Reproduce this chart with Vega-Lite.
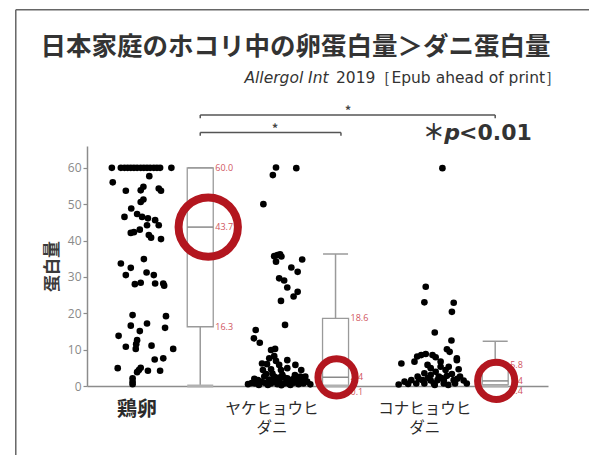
{
  "$schema": "https://vega.github.io/schema/vega-lite/v6.json",
  "width": 461,
  "height": 240,
  "autosize": "none",
  "padding": {"left": 87, "top": 146, "right": 41, "bottom": 69},
  "background": "white",
  "config": {
    "view": {"stroke": null},
    "font": "Noto Sans CJK JP",
    "axis": {"labelOverlap": false, "grid": false}
  },
  "resolve": {"axis": {"x": "independent", "y": "independent"}},
  "datasets": {
    "dust": [
      {"group": "鶏卵", "x": 4.4, "protein": 60}, {"group": "鶏卵", "x": 6.4, "protein": 60}, {"group": "鶏卵", "x": 7.2, "protein": 60},
      {"group": "鶏卵", "x": 7.9, "protein": 60}, {"group": "鶏卵", "x": 8.6, "protein": 60}, {"group": "鶏卵", "x": 9.3, "protein": 60},
      {"group": "鶏卵", "x": 10.0, "protein": 60}, {"group": "鶏卵", "x": 10.8, "protein": 60}, {"group": "鶏卵", "x": 11.5, "protein": 60},
      {"group": "鶏卵", "x": 12.2, "protein": 60}, {"group": "鶏卵", "x": 12.9, "protein": 60}, {"group": "鶏卵", "x": 13.7, "protein": 60},
      {"group": "鶏卵", "x": 14.4, "protein": 60}, {"group": "鶏卵", "x": 15.1, "protein": 60}, {"group": "鶏卵", "x": 17.6, "protein": 60},
      {"group": "鶏卵", "x": 4.6, "protein": 56.0}, {"group": "鶏卵", "x": 12.7, "protein": 57.7}, {"group": "鶏卵", "x": 7.5, "protein": 53.7},
      {"group": "鶏卵", "x": 10.8, "protein": 53.8}, {"group": "鶏卵", "x": 11.4, "protein": 54.8}, {"group": "鶏卵", "x": 14.8, "protein": 54.3},
      {"group": "鶏卵", "x": 15.3, "protein": 53.7}, {"group": "鶏卵", "x": 10.8, "protein": 50.6}, {"group": "鶏卵", "x": 11.4, "protein": 51.3},
      {"group": "鶏卵", "x": 8.7, "protein": 48.8}, {"group": "鶏卵", "x": 7.2, "protein": 46.5}, {"group": "鶏卵", "x": 10.0, "protein": 47.3},
      {"group": "鶏卵", "x": 11.1, "protein": 46.5}, {"group": "鶏卵", "x": 12.4, "protein": 46.1}, {"group": "鶏卵", "x": 14.0, "protein": 45.6},
      {"group": "鶏卵", "x": 14.8, "protein": 44.2}, {"group": "鶏卵", "x": 12.2, "protein": 44.2}, {"group": "鶏卵", "x": 8.6, "protein": 42.1},
      {"group": "鶏卵", "x": 9.3, "protein": 42.3}, {"group": "鶏卵", "x": 10.6, "protein": 43.0}, {"group": "鶏卵", "x": 12.6, "protein": 41.5},
      {"group": "鶏卵", "x": 13.1, "protein": 40.8}, {"group": "鶏卵", "x": 15.3, "protein": 40.4}, {"group": "鶏卵", "x": 6.4, "protein": 33.7},
      {"group": "鶏卵", "x": 11.5, "protein": 34.9}, {"group": "鶏卵", "x": 8.6, "protein": 32.5}, {"group": "鶏卵", "x": 7.5, "protein": 30.5},
      {"group": "鶏卵", "x": 12.1, "protein": 31.2}, {"group": "鶏卵", "x": 13.7, "protein": 30.5}, {"group": "鶏卵", "x": 9.5, "protein": 28.0},
      {"group": "鶏卵", "x": 10.8, "protein": 28.4}, {"group": "鶏卵", "x": 14.0, "protein": 28.2}, {"group": "鶏卵", "x": 15.8, "protein": 28.2},
      {"group": "鶏卵", "x": 16.0, "protein": 27.6}, {"group": "鶏卵", "x": 9.0, "protein": 19.5}, {"group": "鶏卵", "x": 16.4, "protein": 19.2},
      {"group": "鶏卵", "x": 8.6, "protein": 16.6}, {"group": "鶏卵", "x": 12.2, "protein": 17.2}, {"group": "鶏卵", "x": 16.2, "protein": 16.0},
      {"group": "鶏卵", "x": 10.6, "protein": 15.1}, {"group": "鶏卵", "x": 5.9, "protein": 13.8}, {"group": "鶏卵", "x": 10.0, "protein": 12.6},
      {"group": "鶏卵", "x": 9.8, "protein": 11.5}, {"group": "鶏卵", "x": 7.5, "protein": 10.8}, {"group": "鶏卵", "x": 9.7, "protein": 10.2},
      {"group": "鶏卵", "x": 13.2, "protein": 11.1}, {"group": "鶏卵", "x": 18.0, "protein": 10.2}, {"group": "鶏卵", "x": 15.8, "protein": 7.6},
      {"group": "鶏卵", "x": 13.9, "protein": 7.3}, {"group": "鶏卵", "x": 5.7, "protein": 4.9}, {"group": "鶏卵", "x": 10.8, "protein": 5.0},
      {"group": "鶏卵", "x": 10.4, "protein": 4.4}, {"group": "鶏卵", "x": 10.0, "protein": 3.8}, {"group": "鶏卵", "x": 12.4, "protein": 4.2},
      {"group": "鶏卵", "x": 15.1, "protein": 4.2}, {"group": "鶏卵", "x": 9.0, "protein": 2.1}, {"group": "鶏卵", "x": 9.0, "protein": 1.2},
      {"group": "鶏卵", "x": 9.0, "protein": 0.5},

      {"group": "ヤケヒョウヒダニ", "x": 40.8, "protein": 60.1}, {"group": "ヤケヒョウヒダニ", "x": 45.3, "protein": 59.9}, {"group": "ヤケヒョウヒダニ", "x": 40.1, "protein": 58.0},
      {"group": "ヤケヒョウヒダニ", "x": 38.0, "protein": 50.0}, {"group": "ヤケヒョウヒダニ", "x": 40.4, "protein": 35.7}, {"group": "ヤケヒョウヒダニ", "x": 41.1, "protein": 36.0},
      {"group": "ヤケヒョウヒダニ", "x": 41.7, "protein": 36.2}, {"group": "ヤケヒョウヒダニ", "x": 42.0, "protein": 35.6}, {"group": "ヤケヒョウヒダニ", "x": 40.8, "protein": 34.2},
      {"group": "ヤケヒョウヒダニ", "x": 46.6, "protein": 34.8}, {"group": "ヤケヒョウヒダニ", "x": 44.2, "protein": 32.6}, {"group": "ヤケヒョウヒダニ", "x": 45.6, "protein": 31.4},
      {"group": "ヤケヒョウヒダニ", "x": 41.5, "protein": 29.6}, {"group": "ヤケヒョウヒダニ", "x": 42.6, "protein": 29.0}, {"group": "ヤケヒョウヒダニ", "x": 43.3, "protein": 27.1},
      {"group": "ヤケヒョウヒダニ", "x": 45.6, "protein": 25.9}, {"group": "ヤケヒョウヒダニ", "x": 44.7, "protein": 24.6}, {"group": "ヤケヒョウヒダニ", "x": 41.9, "protein": 23.4},
      {"group": "ヤケヒョウヒダニ", "x": 42.8, "protein": 16.8}, {"group": "ヤケヒョウヒダニ", "x": 36.3, "protein": 15.4}, {"group": "ヤケヒョウヒダニ", "x": 35.9, "protein": 13.1},
      {"group": "ヤケヒョウヒダニ", "x": 37.2, "protein": 11.9}, {"group": "ヤケヒョウヒダニ", "x": 39.7, "protein": 9.9}, {"group": "ヤケヒョウヒダニ", "x": 40.6, "protein": 10.2},
      {"group": "ヤケヒョウヒダニ", "x": 40.4, "protein": 8.2}, {"group": "ヤケヒョウヒダニ", "x": 39.3, "protein": 7.6}, {"group": "ヤケヒョウヒダニ", "x": 37.7, "protein": 6.2},
      {"group": "ヤケヒョウヒダニ", "x": 38.8, "protein": 6.0}, {"group": "ヤケヒョウヒダニ", "x": 40.8, "protein": 6.9}, {"group": "ヤケヒョウヒダニ", "x": 43.3, "protein": 7.1},
      {"group": "ヤケヒョウヒダニ", "x": 41.5, "protein": 5.8}, {"group": "ヤケヒョウヒダニ", "x": 37.9, "protein": 4.4}, {"group": "ヤケヒョウヒダニ", "x": 39.7, "protein": 4.6},
      {"group": "ヤケヒョウヒダニ", "x": 41.9, "protein": 4.4}, {"group": "ヤケヒョウヒダニ", "x": 43.3, "protein": 4.9}, {"group": "ヤケヒョウヒダニ", "x": 45.1, "protein": 5.8},
      {"group": "ヤケヒョウヒダニ", "x": 46.4, "protein": 4.4}, {"group": "ヤケヒョウヒダニ", "x": 34.6, "protein": 0.5}, {"group": "ヤケヒョウヒダニ", "x": 35.4, "protein": 0.8},
      {"group": "ヤケヒョウヒダニ", "x": 36.1, "protein": 0.7}, {"group": "ヤケヒョウヒダニ", "x": 36.8, "protein": 1.6}, {"group": "ヤケヒョウヒダニ", "x": 37.5, "protein": 1.2},
      {"group": "ヤケヒョウヒダニ", "x": 38.2, "protein": 2.6}, {"group": "ヤケヒョウヒダニ", "x": 38.2, "protein": 0.9}, {"group": "ヤケヒョウヒダニ", "x": 39.3, "protein": 1.8},
      {"group": "ヤケヒョウヒダニ", "x": 39.7, "protein": 0.7}, {"group": "ヤケヒョウヒダニ", "x": 40.4, "protein": 2.6}, {"group": "ヤケヒョウヒダニ", "x": 40.4, "protein": 1.2},
      {"group": "ヤケヒョウヒダニ", "x": 40.8, "protein": 1.6}, {"group": "ヤケヒョウヒダニ", "x": 41.1, "protein": 0.5}, {"group": "ヤケヒョウヒダニ", "x": 41.5, "protein": 1.6},
      {"group": "ヤケヒョウヒダニ", "x": 41.5, "protein": 2.3}, {"group": "ヤケヒョウヒダニ", "x": 42.6, "protein": 2.3}, {"group": "ヤケヒョウヒダニ", "x": 42.6, "protein": 0.7},
      {"group": "ヤケヒョウヒダニ", "x": 43.3, "protein": 2.1}, {"group": "ヤケヒョウヒダニ", "x": 43.3, "protein": 1.2}, {"group": "ヤケヒョウヒダニ", "x": 43.7, "protein": 0.55},
      {"group": "ヤケヒョウヒダニ", "x": 44.0, "protein": 1.6}, {"group": "ヤケヒョウヒダニ", "x": 44.8, "protein": 2.1}, {"group": "ヤケヒョウヒダニ", "x": 44.8, "protein": 0.9},
      {"group": "ヤケヒョウヒダニ", "x": 45.5, "protein": 1.6}, {"group": "ヤケヒョウヒダニ", "x": 45.8, "protein": 0.5}, {"group": "ヤケヒョウヒダニ", "x": 46.2, "protein": 2.6},
      {"group": "ヤケヒョウヒダニ", "x": 46.2, "protein": 1.2}, {"group": "ヤケヒョウヒダニ", "x": 46.8, "protein": 1.8}, {"group": "ヤケヒョウヒダニ", "x": 46.9, "protein": 0.7},
      {"group": "ヤケヒョウヒダニ", "x": 47.7, "protein": 1.2}, {"group": "ヤケヒョウヒダニ", "x": 48.4, "protein": 0.45}, {"group": "ヤケヒョウヒダニ", "x": 37.0, "protein": 0.3},
      {"group": "ヤケヒョウヒダニ", "x": 39.0, "protein": 0.3}, {"group": "ヤケヒョウヒダニ", "x": 42.0, "protein": 0.2}, {"group": "ヤケヒョウヒダニ", "x": 44.0, "protein": 0.3},
      {"group": "ヤケヒョウヒダニ", "x": 38.6, "protein": 3.3}, {"group": "ヤケヒョウヒダニ", "x": 42.2, "protein": 3.1}, {"group": "ヤケヒョウヒダニ", "x": 40.0, "protein": 3.4},
      {"group": "ヤケヒョウヒダニ", "x": 45.0, "protein": 3.0}, {"group": "ヤケヒョウヒダニ", "x": 36.0, "protein": 2.0}, {"group": "ヤケヒョウヒダニ", "x": 47.3, "protein": 2.6},

      {"group": "コナヒョウヒダニ", "x": 77.7, "protein": 59.9}, {"group": "コナヒョウヒダニ", "x": 74.0, "protein": 27.3}, {"group": "コナヒョウヒダニ", "x": 73.7, "protein": 23.0},
      {"group": "コナヒョウヒダニ", "x": 80.2, "protein": 22.9}, {"group": "コナヒョウヒダニ", "x": 79.8, "protein": 20.4}, {"group": "コナヒョウヒダニ", "x": 76.0, "protein": 14.7},
      {"group": "コナヒョウヒダニ", "x": 79.7, "protein": 12.5}, {"group": "コナヒョウヒダニ", "x": 78.7, "protein": 10.1}, {"group": "コナヒョウヒダニ", "x": 79.3, "protein": 9.4},
      {"group": "コナヒョウヒダニ", "x": 72.1, "protein": 8.1}, {"group": "コナヒョウヒダニ", "x": 73.0, "protein": 8.5}, {"group": "コナヒョウヒダニ", "x": 74.0, "protein": 8.8},
      {"group": "コナヒョウヒダニ", "x": 75.5, "protein": 8.5}, {"group": "コナヒョウヒダニ", "x": 76.2, "protein": 7.9}, {"group": "コナヒョウヒダニ", "x": 77.3, "protein": 6.7},
      {"group": "コナヒョウヒダニ", "x": 80.9, "protein": 7.1}, {"group": "コナヒョウヒダニ", "x": 80.9, "protein": 7.6}, {"group": "コナヒョウヒダニ", "x": 68.6, "protein": 6.2},
      {"group": "コナヒョウヒダニ", "x": 71.5, "protein": 6.7}, {"group": "コナヒョウヒダニ", "x": 74.4, "protein": 5.8}, {"group": "コナヒョウヒダニ", "x": 75.1, "protein": 4.9},
      {"group": "コナヒョウヒダニ", "x": 76.2, "protein": 3.9}, {"group": "コナヒョウヒダニ", "x": 77.3, "protein": 5.3}, {"group": "コナヒョウヒダニ", "x": 78.4, "protein": 4.4},
      {"group": "コナヒョウヒダニ", "x": 79.1, "protein": 5.3}, {"group": "コナヒョウヒダニ", "x": 81.3, "protein": 4.6}, {"group": "コナヒョウヒダニ", "x": 73.7, "protein": 3.5},
      {"group": "コナヒョウヒダニ", "x": 75.1, "protein": 3.0}, {"group": "コナヒョウヒダニ", "x": 76.9, "protein": 2.6}, {"group": "コナヒョウヒダニ", "x": 78.7, "protein": 2.8},
      {"group": "コナヒョウヒダニ", "x": 79.8, "protein": 3.3}, {"group": "コナヒョウヒダニ", "x": 81.6, "protein": 2.6}, {"group": "コナヒョウヒダニ", "x": 72.2, "protein": 2.6},
      {"group": "コナヒョウヒダニ", "x": 70.8, "protein": 1.6}, {"group": "コナヒョウヒダニ", "x": 69.3, "protein": 1.2}, {"group": "コナヒョウヒダニ", "x": 73.3, "protein": 1.6},
      {"group": "コナヒョウヒダニ", "x": 75.1, "protein": 1.5}, {"group": "コナヒョウヒダニ", "x": 78.0, "protein": 1.6}, {"group": "コナヒョウヒダニ", "x": 80.2, "protein": 1.6},
      {"group": "コナヒョウヒダニ", "x": 82.4, "protein": 1.5}, {"group": "コナヒョウヒダニ", "x": 83.1, "protein": 0.7}, {"group": "コナヒョウヒダニ", "x": 71.9, "protein": 0.7},
      {"group": "コナヒョウヒダニ", "x": 73.7, "protein": 0.7}, {"group": "コナヒョウヒダニ", "x": 75.8, "protein": 0.7}, {"group": "コナヒョウヒダニ", "x": 78.0, "protein": 0.7},
      {"group": "コナヒョウヒダニ", "x": 80.5, "protein": 0.7}, {"group": "コナヒョウヒダニ", "x": 70.1, "protein": 0.55}, {"group": "コナヒョウヒダニ", "x": 76.6, "protein": 1.6},
      {"group": "コナヒョウヒダニ", "x": 74.5, "protein": 2.2}, {"group": "コナヒョウヒダニ", "x": 77.5, "protein": 2.2}, {"group": "コナヒョウヒダニ", "x": 72.5, "protein": 1.9},
      {"group": "コナヒョウヒダニ", "x": 81.0, "protein": 2.0}, {"group": "コナヒョウヒダニ", "x": 76.0, "protein": 0.3}, {"group": "コナヒョウヒダニ", "x": 79.0, "protein": 0.3},
      {"group": "コナヒョウヒダニ", "x": 68.0, "protein": 0.4}
    ],
    "boxes": [
      {"group": "鶏卵", "x": 24, "lower": 0, "q1": 16.3, "median": 43.7, "q3": 60.0, "upper": 60},
      {"group": "ヤケヒョウヒダニ", "x": 54, "lower": 0, "q1": 0.1, "median": 2.4, "q3": 18.6, "upper": 36.3},
      {"group": "コナヒョウヒダニ", "x": 89.4, "lower": 0, "q1": 0.4, "median": 1.4, "q3": 5.8, "upper": 12.3}
    ]
  },
  "layer": [
    {
      "data": {"name": "dust"},
      "mark": {"type": "circle", "size": 44, "color": "#000000", "opacity": 1},
      "encoding": {
        "x": {
          "field": "x", "type": "quantitative",
          "scale": {"domain": [0, 100], "nice": false, "zero": false},
          "axis": {"title": null, "labels": false, "ticks": false, "grid": false, "domainColor": "#8c8c8c", "domainWidth": 1.5}
        },
        "y": {
          "field": "protein", "type": "quantitative",
          "scale": {"domain": [0, 66], "nice": false},
          "axis": {
            "title": "蛋白量", "values": [0, 10, 20, 30, 40, 50, 60], "format": "d", "grid": false, "labelOverlap": false,
            "domainColor": "#8c8c8c", "domainWidth": 1.5, "tickColor": "#8c8c8c", "tickSize": 4, "tickWidth": 1.2,
            "labelColor": "#8a8a8a", "labelFont": "Open Sans", "labelFontSize": 12, "labelPadding": 2,
            "titleFont": "Noto Sans CJK JP", "titleFontSize": 17, "titleFontWeight": "bold", "titleColor": "#3a3a3a", "titlePadding": 6
          }
        }
      }
    },
    {
      "data": {"values": [{}]},
      "mark": {"type": "rule", "color": "#666666", "strokeWidth": 1.5},
      "encoding": {"x": {"datum": -16.9, "axis": null}, "y": {"datum": 103.5, "axis": null}, "y2": {"datum": -25}}
    },
    {
      "data": {"values": [{}]},
      "mark": {"type": "rule", "color": "#666666", "strokeWidth": 1.5},
      "encoding": {"x": {"datum": -16.9, "axis": null}, "x2": {"datum": 115}, "y": {"datum": 103.5, "axis": null}}
    },
    {
      "data": {"values": [{}]},
      "mark": {"type": "text", "text": "日本家庭のホコリ中の卵蛋白量＞ダニ蛋白量", "fontSize": 25.5, "fontWeight": "bold", "color": "#333333", "align": "center", "baseline": "middle"},
      "encoding": {"x": {"datum": 45.1, "axis": null}, "y": {"datum": 93.2, "axis": null}}
    },
    {
      "data": {"values": [{}]},
      "mark": {"type": "text", "text": "Allergol Int", "font": "DejaVu Sans", "fontSize": 15.5, "fontStyle": "italic", "color": "#333333", "align": "left", "baseline": "middle"},
      "encoding": {"x": {"datum": 33.8, "axis": null}, "y": {"datum": 84.7, "axis": null}}
    },
    {
      "data": {"values": [{}]},
      "mark": {"type": "text", "text": "2019［Epub ahead of print］", "font": "DejaVu Sans", "fontSize": 15.5, "color": "#333333", "align": "right", "baseline": "middle"},
      "encoding": {"x": {"datum": 104, "axis": null}, "y": {"datum": 84.7, "axis": null}}
    },
    {
      "data": {"values": [{}]},
      "mark": {"type": "rule", "color": "#555555", "strokeWidth": 1.5},
      "encoding": {"x": {"datum": 24, "axis": null}, "x2": {"datum": 89.4}, "y": {"datum": 74.5, "axis": null}}
    },
    {
      "data": {"values": [{}]},
      "mark": {"type": "rule", "color": "#555555", "strokeWidth": 1.5},
      "encoding": {"x": {"datum": 24, "axis": null}, "y": {"datum": 74.5, "axis": null}, "y2": {"datum": 73.6}}
    },
    {
      "data": {"values": [{}]},
      "mark": {"type": "rule", "color": "#555555", "strokeWidth": 1.5},
      "encoding": {"x": {"datum": 89.4, "axis": null}, "y": {"datum": 74.5, "axis": null}, "y2": {"datum": 73.6}}
    },
    {
      "data": {"values": [{}]},
      "mark": {"type": "rule", "color": "#555555", "strokeWidth": 1.5},
      "encoding": {"x": {"datum": 24, "axis": null}, "x2": {"datum": 55.2}, "y": {"datum": 69.7, "axis": null}}
    },
    {
      "data": {"values": [{}]},
      "mark": {"type": "rule", "color": "#555555", "strokeWidth": 1.5},
      "encoding": {"x": {"datum": 24, "axis": null}, "y": {"datum": 69.7, "axis": null}, "y2": {"datum": 68.8}}
    },
    {
      "data": {"values": [{}]},
      "mark": {"type": "rule", "color": "#555555", "strokeWidth": 1.5},
      "encoding": {"x": {"datum": 55.2, "axis": null}, "y": {"datum": 69.7, "axis": null}, "y2": {"datum": 68.8}}
    },
    {
      "data": {"values": [{}]},
      "mark": {"type": "text", "text": "*", "fontSize": 12, "fontWeight": "bold", "color": "#444444", "align": "center", "baseline": "middle"},
      "encoding": {"x": {"datum": 56.8, "axis": null}, "y": {"datum": 75.6, "axis": null}}
    },
    {
      "data": {"values": [{}]},
      "mark": {"type": "text", "text": "*", "fontSize": 12, "fontWeight": "bold", "color": "#444444", "align": "center", "baseline": "middle"},
      "encoding": {"x": {"datum": 40.6, "axis": null}, "y": {"datum": 70.8, "axis": null}}
    },
    {
      "data": {"values": [{}]},
      "mark": {"type": "text", "text": "＊", "fontSize": 22, "fontWeight": "bold", "color": "#333333", "align": "center", "baseline": "middle"},
      "encoding": {"x": {"datum": 75.8, "axis": null}, "y": {"datum": 69.6, "axis": null}}
    },
    {
      "data": {"values": [{}]},
      "mark": {"type": "text", "text": "p", "font": "DejaVu Sans", "fontSize": 22, "fontStyle": "italic", "fontWeight": "bold", "color": "#333333", "align": "left", "baseline": "middle"},
      "encoding": {"x": {"datum": 78.1, "axis": null}, "y": {"datum": 69.6, "axis": null}}
    },
    {
      "data": {"values": [{}]},
      "mark": {"type": "text", "text": "<0.01", "font": "DejaVu Sans", "fontSize": 22, "fontWeight": "bold", "color": "#333333", "align": "left", "baseline": "middle"},
      "encoding": {"x": {"datum": 81.4, "axis": null}, "y": {"datum": 69.6, "axis": null}}
    },
    {
      "data": {"name": "boxes"},
      "mark": {"type": "rule", "color": "#9a9a9a", "strokeWidth": 1.5},
      "encoding": {
        "x": {"field": "x", "type": "quantitative", "axis": null},
        "y": {"field": "lower", "type": "quantitative", "axis": null},
        "y2": {"field": "upper"}
      }
    },
    {
      "data": {"name": "boxes"},
      "mark": {"type": "bar", "size": 26, "fill": "#ffffff", "stroke": "#9a9a9a", "strokeWidth": 1.3},
      "encoding": {
        "x": {"field": "x", "type": "quantitative", "axis": null},
        "y": {"field": "q1", "type": "quantitative", "axis": null},
        "y2": {"field": "q3"}
      }
    },
    {
      "data": {"name": "boxes"},
      "mark": {"type": "tick", "orient": "horizontal", "size": 26, "thickness": 1.5, "color": "#8a8a8a", "opacity": 1},
      "encoding": {
        "x": {"field": "x", "type": "quantitative", "axis": null},
        "y": {"field": "median", "type": "quantitative", "axis": null}
      }
    },
    {
      "data": {"name": "boxes"},
      "mark": {"type": "tick", "orient": "horizontal", "size": 25, "thickness": 1.5, "color": "#9a9a9a", "opacity": 1},
      "encoding": {
        "x": {"field": "x", "type": "quantitative", "axis": null},
        "y": {"field": "upper", "type": "quantitative", "axis": null}
      }
    },
    {
      "data": {"name": "boxes"},
      "mark": {"type": "tick", "orient": "horizontal", "size": 26, "thickness": 3, "color": "#b0b0b0", "opacity": 1},
      "encoding": {
        "x": {"field": "x", "type": "quantitative", "axis": null},
        "y": {"field": "lower", "type": "quantitative", "axis": null}
      }
    },
    {
      "data": {"name": "boxes"},
      "transform": [
        {"fold": ["q3", "median", "q1"], "as": ["stat", "level"]},
        {"filter": "!(datum.stat === 'q1' && datum.level < 1)"}
      ],
      "mark": {"type": "text", "align": "left", "baseline": "middle", "dx": 15, "fontSize": 9, "font": "Open Sans", "color": "#d05560"},
      "encoding": {
        "x": {"field": "x", "type": "quantitative", "axis": null},
        "y": {"field": "level", "type": "quantitative", "axis": null},
        "text": {"field": "level", "type": "quantitative", "format": ".1f"}
      }
    },
    {
      "data": {"name": "boxes"},
      "transform": [
        {"fold": ["q1"], "as": ["stat", "level"]},
        {"filter": "datum.level < 1"}
      ],
      "mark": {"type": "text", "align": "left", "baseline": "top", "dx": 15, "dy": 2, "fontSize": 9, "font": "Open Sans", "color": "#d05560"},
      "encoding": {
        "x": {"field": "x", "type": "quantitative", "axis": null},
        "y": {"field": "level", "type": "quantitative", "axis": null},
        "text": {"field": "level", "type": "quantitative", "format": ".1f"}
      }
    },
    {
      "data": {"name": "boxes"},
      "mark": {"type": "point", "shape": "circle", "filled": false, "color": "#b3161f", "opacity": 1,
               "xOffset": {"expr": "datum.group === '鶏卵' ? 8 : 1"}},
      "encoding": {
        "x": {"field": "x", "type": "quantitative", "axis": null},
        "y": {"field": "median", "type": "quantitative", "axis": null},
        "size": {"condition": {"test": "datum.group === '鶏卵'", "value": 3520}, "value": 1385},
        "strokeWidth": {"condition": {"test": "datum.group === '鶏卵'", "value": 8}, "value": 7}
      }
    },
    {
      "data": {"values": [{}]},
      "mark": {"type": "text", "text": "鶏卵", "fontSize": 20, "fontWeight": "bold", "color": "#2a2a2a", "align": "center", "baseline": "top"},
      "encoding": {"x": {"datum": 10, "axis": null}, "y": {"datum": -3.9, "axis": null}}
    },
    {
      "data": {"values": [{}]},
      "mark": {"type": "text", "text": ["ヤケヒョウヒ", "ダニ"], "lineHeight": 19, "fontSize": 15.5, "color": "#2a2a2a", "align": "center", "baseline": "top"},
      "encoding": {"x": {"datum": 39.9, "axis": null}, "y": {"datum": -4.4, "axis": null}}
    },
    {
      "data": {"values": [{}]},
      "mark": {"type": "text", "text": ["コナヒョウヒ", "ダニ"], "lineHeight": 19, "fontSize": 15.5, "color": "#2a2a2a", "align": "center", "baseline": "top"},
      "encoding": {"x": {"datum": 73.8, "axis": null}, "y": {"datum": -4.4, "axis": null}}
    }
  ]
}
